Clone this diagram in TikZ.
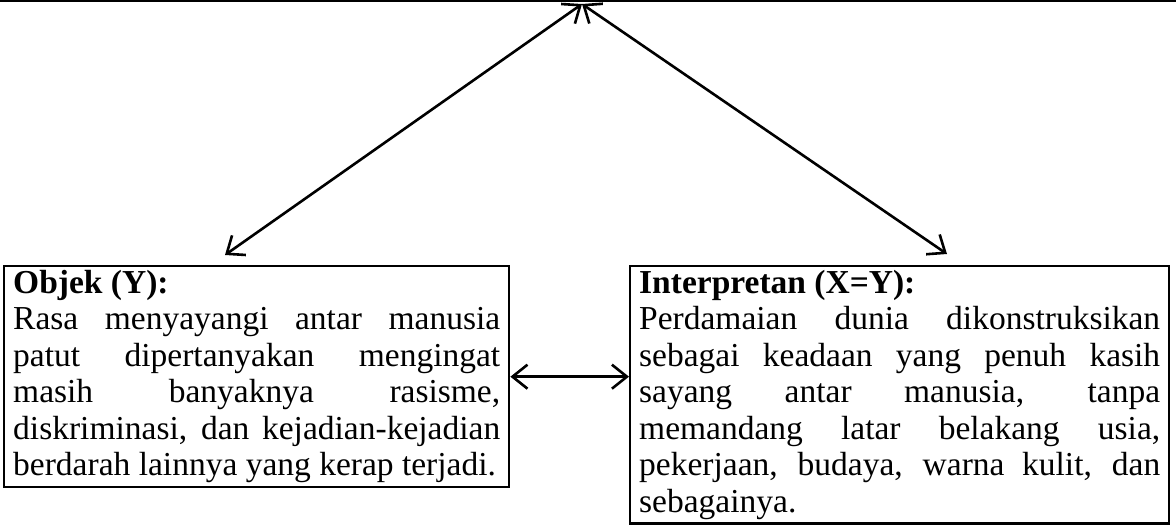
\documentclass[tikz,border=0pt]{standalone}
\usepackage{fontspec}
\setmainfont{Liberation Serif}
\usetikzlibrary{arrows.meta}
\begin{document}
\begin{tikzpicture}[x=1pt,y=-1pt,
  textbox/.style={draw, line width=2.4pt, anchor=north west, inner xsep=9pt, inner ysep=4pt,
    align=justify, font=\fontsize{33.5}{36.5}\selectfont},
  barb/.tip={Straight Barb[length=15pt,width=24pt,line width=2.6pt]},
  link/.style={line width=2.6pt, barb-barb}]
\useasboundingbox (0,0) rectangle (1176,527);
% lower edge of the box above (only its bottom border is in view)
\node[draw, line width=3.4pt, minimum width=1220pt, minimum height=100pt, anchor=south, inner sep=0pt]
  (tanda) at (588,1.7) {};
\coordinate (apex) at (582,4);
\coordinate (tipL) at (225,255);
\coordinate (tipR) at (947,254);
% object box
\node[textbox, text width=487pt] (obj) at (3,265) {%
  \spaceskip=0.25em plus 3em minus 0.05em\hyphenpenalty=10000\exhyphenpenalty=10000
  \textbf{Objek (Y):}\\
  Rasa menyayangi antar manusia\linebreak
  patut dipertanyakan mengingat\linebreak
  masih banyaknya rasisme,\linebreak
  diskriminasi, dan kejadian-kejadian\linebreak
  berdarah lainnya yang kerap terjadi.};
% interpretant box
\node[textbox, text width=521pt] (int) at (629,265) {%
  \spaceskip=0.25em plus 3em minus 0.05em\hyphenpenalty=10000\exhyphenpenalty=10000
  \textbf{Interpretan (X=Y):}\\
  Perdamaian dunia dikonstruksikan\linebreak
  sebagai keadaan yang penuh kasih\linebreak
  sayang antar manusia, tanpa\linebreak
  memandang latar belakang usia,\linebreak
  pekerjaan, budaya, warna kulit, dan\linebreak
  sebagainya.};
% connectors
\draw[link] (apex) -- (tipL);
\draw[link] (apex) -- (tipR);
\draw[link] (obj.east) -- (obj.east -| int.west);
\end{tikzpicture}
\end{document}
